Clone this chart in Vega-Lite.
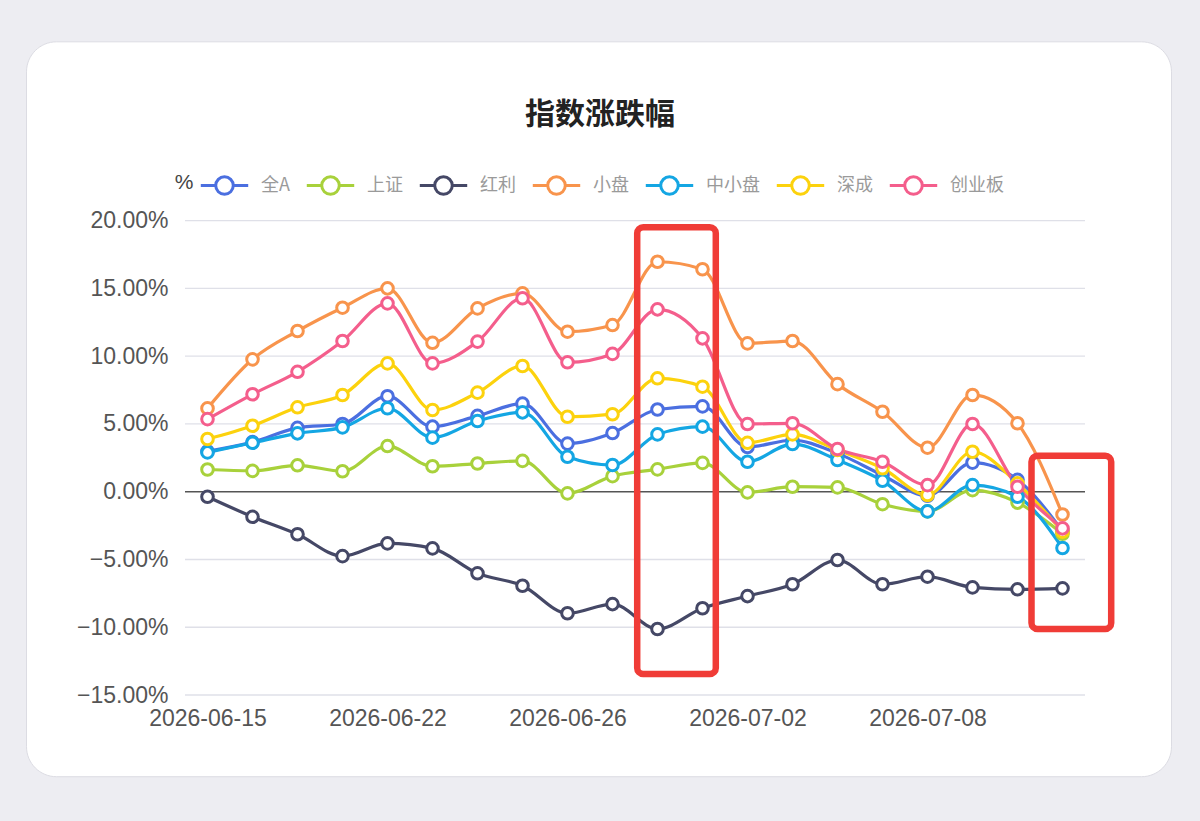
{
  "$schema": "https://vega.github.io/schema/vega-lite/v6.json",
  "description": "指数涨跌幅 line chart",
  "width": 900,
  "height": 474.3,
  "autosize": {"type": "none"},
  "padding": {"left": 185, "top": 220.7, "right": 115, "bottom": 126},
  "background": "#ededf2",
  "title": {
    "text": "指数涨跌幅",
    "font": "Noto Sans CJK SC",
    "fontSize": 30,
    "fontWeight": "bold",
    "color": "#222222",
    "anchor": "middle",
    "frame": "group",
    "dx": -35,
    "offset": -89
  },
  "config": {
    "view": {"stroke": null},
    "font": "Liberation Sans",
    "legend": {
      "orient": "none",
      "legendX": 14,
      "legendY": -61,
      "direction": "horizontal",
      "columns": 7,
      "symbolType": "M-1,0L-0.37,0M0.37,0L1,0M-0.37,0A0.37,0.37 0 1 1 0.37,0A0.37,0.37 0 1 1 -0.37,0",
      "symbolSize": 2250,
      "symbolStrokeWidth": 3,
      "symbolFillColor": "#ffffff",
      "labelFont": "Noto Sans CJK SC",
      "labelFontSize": 18,
      "labelColor": "#9a9a9a",
      "labelOffset": 11,
      "columnPadding": 10,
      "title": null
    }
  },
  "datasets": {
    "idx": [
      {"d": "2026-06-15", "全A": 2.98, "上证": 1.64, "红利": -0.37, "小盘": 6.15, "中小盘": 2.9, "深成": 3.89, "创业板": 5.36},
      {"d": "2026-06-16", "全A": 3.66, "上证": 1.54, "红利": -1.85, "小盘": 9.77, "中小盘": 3.61, "深成": 4.87, "创业板": 7.19},
      {"d": "2026-06-17", "全A": 4.71, "上证": 1.95, "红利": -3.14, "小盘": 11.86, "中小盘": 4.31, "深成": 6.23, "创业板": 8.85},
      {"d": "2026-06-18", "全A": 5.0, "上证": 1.51, "红利": -4.75, "小盘": 13.58, "中小盘": 4.75, "深成": 7.14, "创业板": 11.12},
      {"d": "2026-06-22", "全A": 7.05, "上证": 3.37, "红利": -3.81, "小盘": 15.01, "中小盘": 6.16, "深成": 9.47, "创业板": 13.9},
      {"d": "2026-06-23", "全A": 4.8, "上证": 1.88, "红利": -4.18, "小盘": 10.99, "中小盘": 3.99, "深成": 6.03, "创业板": 9.47},
      {"d": "2026-06-24", "全A": 5.6, "上证": 2.08, "红利": -6.02, "小盘": 13.53, "中小盘": 5.22, "深成": 7.31, "创业板": 11.08},
      {"d": "2026-06-25", "全A": 6.5, "上证": 2.28, "红利": -6.94, "小盘": 14.64, "中小盘": 5.86, "深成": 9.28, "创业板": 14.28},
      {"d": "2026-06-26", "全A": 3.55, "上证": -0.12, "红利": -8.97, "小盘": 11.81, "中小盘": 2.58, "深成": 5.53, "创业板": 9.55},
      {"d": "2026-06-29", "全A": 4.33, "上证": 1.15, "红利": -8.29, "小盘": 12.3, "中小盘": 1.97, "深成": 5.72, "创业板": 10.17},
      {"d": "2026-06-30", "全A": 6.07, "上证": 1.65, "红利": -10.13, "小盘": 16.97, "中小盘": 4.23, "深成": 8.37, "创业板": 13.46},
      {"d": "2026-07-01", "全A": 6.3, "上证": 2.13, "红利": -8.6, "小盘": 16.42, "中小盘": 4.8, "深成": 7.75, "创业板": 11.32},
      {"d": "2026-07-02", "全A": 3.3, "上证": -0.05, "红利": -7.7, "小盘": 10.95, "中小盘": 2.21, "深成": 3.61, "创业板": 5.0},
      {"d": "2026-07-03", "全A": 3.8, "上证": 0.37, "红利": -6.83, "小盘": 11.12, "中小盘": 3.52, "深成": 4.23, "创业板": 5.05},
      {"d": "2026-07-06", "全A": 2.83, "上证": 0.32, "红利": -5.04, "小盘": 7.94, "中小盘": 2.34, "深成": 3.08, "创业板": 3.15},
      {"d": "2026-07-07", "全A": 1.22, "上证": -0.92, "红利": -6.83, "小盘": 5.9, "中小盘": 0.81, "深成": 1.73, "创业板": 2.21},
      {"d": "2026-07-08", "全A": -0.3, "上证": -1.45, "红利": -6.27, "小盘": 3.25, "中小盘": -1.45, "深成": -0.24, "创业板": 0.49},
      {"d": "2026-07-09", "全A": 2.15, "上证": 0.12, "红利": -7.06, "小盘": 7.14, "中小盘": 0.49, "深成": 2.95, "创业板": 5.0},
      {"d": "2026-07-10", "全A": 0.88, "上证": -0.8, "红利": -7.2, "小盘": 5.05, "中小盘": -0.37, "深成": 0.62, "创业板": 0.37},
      {"d": "2026-07-13", "全A": -2.9, "上证": -3.1, "红利": -7.13, "小盘": -1.68, "中小盘": -4.15, "深成": -2.95, "创业板": -2.7}
    ],
    "grid": [{"g": -15}, {"g": -10}, {"g": -5}, {"g": 5}, {"g": 10}, {"g": 15}, {"g": 20}]
  },
  "layer": [
    {
      "data": {"values": [{}]},
      "mark": {"type": "rect", "fill": "#ffffff", "stroke": "#dcdce3", "strokeWidth": 1, "cornerRadius": 30, "xOffset": -181, "x2Offset": 109},
      "encoding": {
        "x": {"datum": "2026-06-15", "type": "ordinal"},
        "x2": {"datum": "2026-07-13"},
        "y": {"datum": 33.2, "type": "quantitative"},
        "y2": {"datum": -21.03}
      }
    },
    {
      "data": {"name": "grid"},
      "mark": {"type": "rule", "color": "#dfe0e8", "strokeWidth": 1.3},
      "encoding": {"y": {"field": "g", "type": "quantitative"}}
    },
    {
      "data": {"values": [{}]},
      "mark": {"type": "rule", "color": "#555555", "strokeWidth": 1.5},
      "encoding": {"y": {"datum": 0, "type": "quantitative"}}
    },
    {
      "data": {"name": "idx"},
      "transform": [{"fold": ["全A", "上证", "红利", "小盘", "中小盘", "深成", "创业板"], "as": ["s", "v"]}],
      "layer": [
        {"mark": {"type": "line", "interpolate": "monotone", "strokeWidth": 3.2}},
        {"mark": {"type": "point", "filled": false, "fill": "#ffffff", "fillOpacity": 1, "opacity": 1, "size": 135, "strokeWidth": 3}}
      ],
      "encoding": {
        "x": {
          "field": "d",
          "type": "ordinal",
          "scale": {"type": "point", "padding": 0.5},
          "axis": {
            "zindex": 2,
            "values": ["2026-06-15", "2026-06-22", "2026-06-26", "2026-07-02", "2026-07-08"],
            "title": null,
            "labelAngle": 0,
            "labelAlign": "center",
            "labelBaseline": "top",
            "ticks": false,
            "domain": false,
            "grid": false,
            "labelFontSize": 23,
            "labelColor": "#555555",
            "labelPadding": 12
          }
        },
        "y": {
          "field": "v",
          "type": "quantitative",
          "scale": {"domain": [-15, 20], "nice": false, "zero": false},
          "axis": {
            "zindex": 2,
            "values": [-15, -10, -5, 0, 5, 10, 15, 20],
            "labelExpr": "format(datum.value, '.2f') + '%'",
            "grid": false,
            "ticks": false,
            "domain": false,
            "labelFontSize": 23,
            "labelColor": "#555555",
            "labelPadding": 17,
            "title": "%",
            "titleAngle": 0,
            "titleAlign": "center",
            "titleBaseline": "middle",
            "titleX": -1.5,
            "titleY": -38.7,
            "titleFontSize": 21,
            "titleFontWeight": "normal",
            "titleColor": "#444444"
          }
        },
        "color": {
          "field": "s",
          "type": "nominal",
          "scale": {
            "domain": ["全A", "上证", "红利", "小盘", "中小盘", "深成", "创业板"],
            "range": ["#4b6fe0", "#a8d13b", "#454866", "#f8944c", "#14a6e3", "#fcd20d", "#f45e8c"]
          },
          "legend": {}
        }
      }
    },
    {
      "data": {"values": [{}]},
      "mark": {"type": "rect", "fillOpacity": 0, "stroke": "#f03c37", "strokeWidth": 6.5, "cornerRadius": 6, "xOffset": -20.3, "x2Offset": 13.3},
      "encoding": {
        "x": {"datum": "2026-06-30", "type": "ordinal"},
        "x2": {"datum": "2026-07-01"},
        "y": {"datum": 19.51, "type": "quantitative"},
        "y2": {"datum": -13.45}
      }
    },
    {
      "data": {"values": [{}]},
      "mark": {"type": "rect", "fillOpacity": 0, "stroke": "#f03c37", "strokeWidth": 6.5, "cornerRadius": 6, "xOffset": -31, "x2Offset": 48.7},
      "encoding": {
        "x": {"datum": "2026-07-13", "type": "ordinal"},
        "x2": {"datum": "2026-07-13"},
        "y": {"datum": 2.66, "type": "quantitative"},
        "y2": {"datum": -10.13}
      }
    }
  ]
}
